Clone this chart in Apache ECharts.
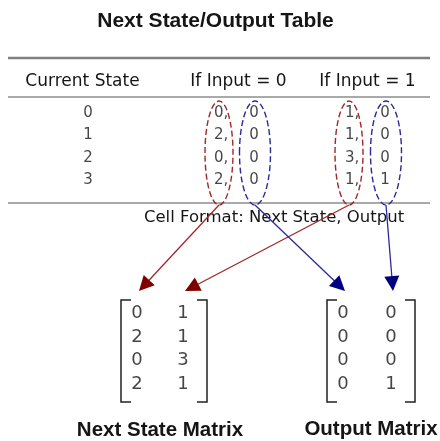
<!DOCTYPE html>
<html><head><meta charset="utf-8">
<script src="https://cdn.jsdelivr.net/npm/echarts@6/dist/echarts.min.js"></script>
<style>html,body{margin:0;padding:0;background:#fff}#c{width:440px;height:441px}</style>
</head><body><div id="c"></div>
<script>
// ---------------- data ----------------
const chartTitle = 'Next State/Output Table';
const headerLabels = ['Current State', 'If Input = 0', 'If Input = 1'];
const currentStates = [0, 1, 2, 3];
const nextStateIn0 = [0, 2, 0, 2];
const outputIn0 = [0, 0, 0, 0];
const nextStateIn1 = [1, 1, 3, 1];
const outputIn1 = [0, 0, 0, 1];
const cellFormatNote = 'Cell Format: Next State, Output';
const matrixTitles = ['Next State Matrix', 'Output Matrix'];

// ---------------- layout / style ----------------
const FONT = 'DejaVu Sans';
const BOLD = 'Liberation Sans';
const INK = '#151515';
const RED = '#a02828', RED_DARK = '#800000', BLUE = '#2a2a9c', BLUE_DARK = '#000080';
const L = {
  titleX: 215.5, titleY: 21,
  ruleX0: 8, ruleX1: 430, ruleTop: 58, ruleHead: 97, ruleBottom: 203,
  headerY: 81.5, headerX: [82.5, 238.5, 367.5],
  rowY0: 113, rowPitch: 22.5,
  stateX: 88,
  pairs: [
    { nsX: 214, outX: 254, ellNs: 219, ellOut: 255 },
    { nsX: 345, outX: 385, ellNs: 349, ellOut: 386 }
  ],
  ellCy: 153, ellRy: 52, ellRx: [14, 15.5],
  noteX: 274, noteY: 217.5,
  matrices: [
    { left: 121, right: 207, colX: [137, 183] },
    { left: 327, right: 415, colX: [343, 391] }
  ],
  matTop: 300, matBottom: 402, serif: 10, matRowY0: 313.5, matRowPitch: 23.5,
  arrowTipY: 291, arrowTipDx: 2, headLen: 15, headHalf: 7.5,
  labelX: [160, 371], labelY: [430, 429]
};

// ---------------- helpers ----------------
function gtext(x, y, text, font) {
  return { type: 'text', x: x, y: y,
    style: { text: text, fill: INK, font: font, align: 'center', verticalAlign: 'middle' } };
}
function textSeries(name, data, size, align) {
  return {
    type: 'scatter', name: name, data: data, symbol: 'circle', symbolSize: 1,
    itemStyle: { color: 'rgba(0,0,0,0)' }, silent: true, z: 5,
    label: {
      show: true, position: 'inside', align: align || 'center', verticalAlign: 'middle',
      color: INK, fontFamily: FONT, fontSize: size, formatter: '{b}'
    },
    emphasis: { disabled: true }
  };
}

const pairNs = [nextStateIn0, nextStateIn1];
const pairOut = [outputIn0, outputIn1];
const matrixCols = [[nextStateIn0, nextStateIn1], [outputIn0, outputIn1]];
const rowY = i => L.rowY0 + i * L.rowPitch;
const item = (x, y, t) => ({ name: t, value: [x, y] });

const stateData = currentStates.map((s, i) => item(L.stateX, rowY(i), String(s)));
const nsData = [], outData = [];
L.pairs.forEach((p, k) => {
  pairNs[k].forEach((v, i) => nsData.push(item(p.nsX, rowY(i), v + ',')));
  pairOut[k].forEach((v, i) => outData.push(item(p.outX, rowY(i), String(v))));
});
const matData = [];
matrixCols.forEach((cols, m) => cols.forEach((col, c) => col.forEach((v, r) =>
  matData.push(item(L.matrices[m].colX[c], L.matRowY0 + r * L.matRowPitch, String(v))))));

// ellipse groups: [pair, kind] kind 0 = next state, 1 = output
const ellipseData = [[0, 0], [0, 1], [1, 0], [1, 1]];
// arrows: [pair, kind] -> matrix "kind", column "pair"
const arrowData = [[0, 0], [1, 0], [0, 1], [1, 1]];
const bracketData = [[0], [1]];

const chart = echarts.init(document.getElementById('c'), null, { renderer: 'canvas' });

const option = {
  animation: false,
  backgroundColor: '#ffffff',
  grid: { left: 0, right: 0, top: 0, bottom: 0 },
  xAxis: { type: 'value', min: 0, max: 440, show: false },
  yAxis: { type: 'value', min: 0, max: 441, inverse: true, show: false },
  graphic: [
    gtext(L.titleX, L.titleY, chartTitle, 'bold 21px "' + BOLD + '"'),
    { type: 'line', shape: { x1: L.ruleX0, y1: L.ruleTop, x2: L.ruleX1, y2: L.ruleTop }, style: { stroke: '#808080', lineWidth: 2.5 } },
    { type: 'line', shape: { x1: L.ruleX0, y1: L.ruleHead, x2: L.ruleX1, y2: L.ruleHead }, style: { stroke: '#8c8c8c', lineWidth: 1.5 } },
    { type: 'line', shape: { x1: L.ruleX0, y1: L.ruleBottom, x2: L.ruleX1, y2: L.ruleBottom }, style: { stroke: '#8c8c8c', lineWidth: 1.5 } }
  ].concat(
    headerLabels.map((h, i) => gtext(L.headerX[i], L.headerY, h, '17px "' + FONT + '"')),
    [gtext(L.noteX, L.noteY, cellFormatNote, '16.5px "' + FONT + '"')],
    matrixTitles.map((t, i) => gtext(L.labelX[i], L.labelY[i], t, 'bold 20.5px "' + BOLD + '"'))
  ),
  series: [
    textSeries('Current State', stateData, 15),
    textSeries('Next State', nsData, 15, 'left'),
    textSeries('Output', outData, 15),
    textSeries('Matrices', matData, 18),
    {
      type: 'custom', name: 'ellipses', data: ellipseData, z: 4, silent: true,
      renderItem: function (params, api) {
        const pair = api.value(0), kind = api.value(1);
        const p = L.pairs[pair];
        const c = api.coord([kind === 0 ? p.ellNs : p.ellOut, L.ellCy]);
        const s = api.size([L.ellRx[kind], L.ellRy]);
        return {
          type: 'ellipse',
          shape: { cx: c[0], cy: c[1], rx: s[0], ry: s[1] },
          style: { fill: null, stroke: kind === 0 ? RED : BLUE, lineWidth: 1.4, lineDash: [6, 3] }
        };
      }
    },
    {
      type: 'custom', name: 'arrows', data: arrowData, z: 6, silent: true,
      renderItem: function (params, api) {
        const pair = api.value(0), kind = api.value(1);
        const p = L.pairs[pair];
        const sx = kind === 0 ? p.ellNs : p.ellOut;
        const a = api.coord([sx, L.ellCy + L.ellRy]);
        const b = api.coord([L.matrices[kind].colX[pair] + L.arrowTipDx, L.arrowTipY]);
        const dx = b[0] - a[0], dy = b[1] - a[1];
        const len = Math.sqrt(dx * dx + dy * dy);
        const ux = dx / len, uy = dy / len;
        const bx = b[0] - ux * L.headLen, by = b[1] - uy * L.headLen;
        const nx = -uy, ny = ux;
        return {
          type: 'group', children: [
            { type: 'line', shape: { x1: a[0], y1: a[1], x2: bx + ux * 2, y2: by + uy * 2 },
              style: { stroke: kind === 0 ? RED : BLUE, lineWidth: 1.3 } },
            { type: 'polygon', shape: { points: [[b[0], b[1]], [bx + nx * L.headHalf, by + ny * L.headHalf], [bx - nx * L.headHalf, by - ny * L.headHalf]] },
              style: { fill: kind === 0 ? RED_DARK : BLUE_DARK } }
          ]
        };
      }
    },
    {
      type: 'custom', name: 'brackets', data: bracketData, z: 5, silent: true,
      renderItem: function (params, api) {
        const M = L.matrices[api.value(0)];
        const tl = api.coord([M.left, L.matTop]), bl = api.coord([M.left, L.matBottom]);
        const tr = api.coord([M.right, L.matTop]), br = api.coord([M.right, L.matBottom]);
        const st = { stroke: '#222', lineWidth: 1.5, fill: null };
        return {
          type: 'group', children: [
            { type: 'polyline', shape: { points: [[tl[0] + L.serif, tl[1]], tl, bl, [bl[0] + L.serif, bl[1]]] }, style: st },
            { type: 'polyline', shape: { points: [[tr[0] - L.serif, tr[1]], tr, br, [br[0] - L.serif, br[1]]] }, style: st }
          ]
        };
      }
    }
  ]
};
chart.setOption(option);
</script>
</body></html>
